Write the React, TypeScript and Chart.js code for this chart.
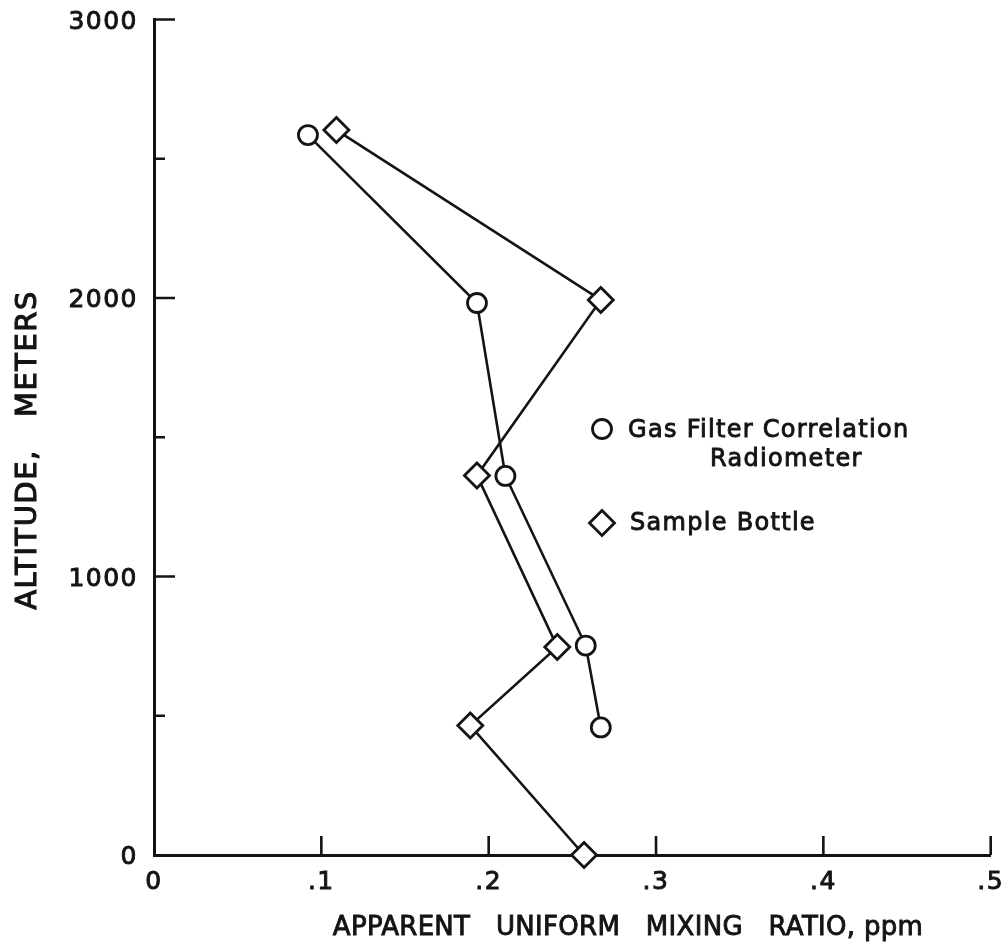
import React, { useEffect, useRef } from 'react';
import { Chart, registerables } from 'chart.js';

Chart.register(...registerables);

// ---- data ----
const gasRatio = [0.092, 0.193, 0.21, 0.258, 0.267];
const gasAltitude = [2585, 1982, 1361, 752, 458];
const bottleRatio = [0.109, 0.267, 0.193, 0.241, 0.189, 0.257];
const bottleAltitude = [2603, 1993, 1363, 747, 465, 0];
const xTickValues = [0, 0.1, 0.2, 0.3, 0.4, 0.5];
const xTickLabels = ['0', '.1', '.2', '.3', '.4', '.5'];
const yTickValues = [0, 1000, 2000, 3000];
const yTickLabels = ['0', '1000', '2000', '3000'];
const gasLegendLines = ['Gas Filter Correlation', 'Radiometer'];
const bottleLegend = 'Sample Bottle';
const xTitle = 'APPARENT   UNIFORM   MIXING   RATIO, ppm';
const yTitle = 'ALTITUDE,   METERS';

const INK = '#141414';
const FONT = '"DejaVu Sans", sans-serif';

function boldText(ctx: any, text: string, x: number, y: number, w = 0.9) {
  ctx.fillText(text, x, y);
  ctx.lineWidth = w;
  ctx.strokeText(text, x, y);
}

const decorPlugin = {
  id: 'decor',
  beforeDatasetsDraw(chart: any) {
    const ctx = chart.ctx;
    const { x, y } = chart.scales;
    const area = chart.chartArea;
    ctx.save();
    ctx.strokeStyle = INK;
    ctx.lineWidth = 2.6;
    ctx.lineCap = 'butt';
    ctx.beginPath();
    y.ticks.forEach((t: any) => {
      if (t.value === 0) return;
      const py = y.getPixelForValue(t.value);
      const len = t.value % 1000 === 0 ? 21 : 11;
      ctx.moveTo(area.left, py);
      ctx.lineTo(area.left + len, py);
    });
    x.ticks.forEach((t: any) => {
      if (t.value === 0) return;
      const px = x.getPixelForValue(t.value);
      ctx.moveTo(px, area.bottom);
      ctx.lineTo(px, area.bottom - 19);
    });
    ctx.stroke();

    // tick labels
    ctx.fillStyle = INK;
    ctx.strokeStyle = INK;
    ctx.font = `25px ${FONT}`;
    ctx.letterSpacing = '1.5px';
    ctx.textBaseline = 'alphabetic';
    ctx.textAlign = 'right';
    yTickValues.forEach((v, i) => {
      const py = y.getPixelForValue(v);
      boldText(ctx, yTickLabels[i], area.left - 16, py + 9);
    });
    ctx.textAlign = 'center';
    xTickValues.forEach((v, i) => {
      const px = x.getPixelForValue(v);
      boldText(ctx, xTickLabels[i], px, area.bottom + 34);
    });
    ctx.restore();
  },
  afterDraw(chart: any) {
    const ctx = chart.ctx;
    ctx.save();
    ctx.fillStyle = INK;
    ctx.strokeStyle = INK;

    // axis titles
    ctx.font = `26px ${FONT}`;
    ctx.letterSpacing = '0.3px';
    ctx.textAlign = 'center';
    ctx.textBaseline = 'alphabetic';
    boldText(ctx, xTitle, 628, 935);

    ctx.save();
    ctx.translate(35.5, 450);
    ctx.rotate(-Math.PI / 2);
    ctx.font = `29px ${FONT}`;
    ctx.letterSpacing = '1.5px';
    boldText(ctx, yTitle, 0, 0, 1.1);
    ctx.restore();

    // legend
    ctx.lineWidth = 2.8;
    ctx.fillStyle = '#ffffff';
    ctx.beginPath();
    ctx.arc(602, 429, 9.5, 0, Math.PI * 2);
    ctx.fill();
    ctx.stroke();
    const dx = 602, dy = 523, r = 12.5;
    ctx.beginPath();
    ctx.moveTo(dx - r, dy);
    ctx.lineTo(dx, dy - r);
    ctx.lineTo(dx + r, dy);
    ctx.lineTo(dx, dy + r);
    ctx.closePath();
    ctx.fill();
    ctx.stroke();

    ctx.fillStyle = INK;
    ctx.font = `24px ${FONT}`;
    ctx.letterSpacing = '1.3px';
    ctx.textAlign = 'left';
    boldText(ctx, gasLegendLines[0], 628, 437);
    boldText(ctx, gasLegendLines[1], 710, 466);
    boldText(ctx, bottleLegend, 630, 530);
    ctx.restore();
  },
};

function zeroPad(s: any) {
  s.paddingLeft = 0;
  s.paddingRight = 0;
  s.paddingTop = 0;
  s.paddingBottom = 0;
}

export default function App() {
  const ref = useRef<HTMLCanvasElement | null>(null);

  useEffect(() => {
    if (!ref.current) return;
    const chart = new Chart(ref.current, {
      type: 'line',
      data: {
        datasets: [
          {
            label: gasLegendLines.join(' '),
            data: gasRatio.map((v, i) => ({ x: v, y: gasAltitude[i] })),
            borderColor: INK,
            borderWidth: 2.6,
            pointStyle: 'circle',
            pointRadius: 9.5,
            pointBorderWidth: 2.8,
            pointBackgroundColor: '#ffffff',
            pointBorderColor: INK,
            tension: 0,
            clip: false as any,
          },
          {
            label: bottleLegend,
            data: bottleRatio.map((v, i) => ({ x: v, y: bottleAltitude[i] })),
            borderColor: INK,
            borderWidth: 2.6,
            pointStyle: 'rectRot',
            pointRadius: 12.5,
            pointBorderWidth: 2.8,
            pointBackgroundColor: '#ffffff',
            pointBorderColor: INK,
            tension: 0,
            clip: false as any,
          },
        ],
      },
      options: {
        animation: false,
        responsive: false,
        events: [],
        layout: { padding: { left: 0, right: 13, top: 19.5, bottom: 0 } },
        plugins: {
          legend: { display: false },
          tooltip: { enabled: false },
        },
        scales: {
          x: {
            type: 'linear',
            min: 0,
            max: 0.5,
            afterFit: (s: any) => {
              s.height = 88;
              zeroPad(s);
            },
            afterBuildTicks: (s: any) => {
              s.ticks = xTickValues.map((v) => ({ value: v }));
            },
            grid: { display: false, drawTicks: false },
            border: { display: true, color: INK, width: 3 },
            ticks: { display: false },
          },
          y: {
            type: 'linear',
            min: 0,
            max: 3000,
            afterFit: (s: any) => {
              s.width = 154;
              zeroPad(s);
            },
            afterBuildTicks: (s: any) => {
              const arr: any[] = [];
              for (let i = 0; i < yTickValues.length; i++) {
                arr.push({ value: yTickValues[i] });
                if (i < yTickValues.length - 1) arr.push({ value: (yTickValues[i] + yTickValues[i + 1]) / 2 });
              }
              s.ticks = arr;
            },
            grid: { display: false, drawTicks: false },
            border: { display: true, color: INK, width: 3 },
            ticks: { display: false },
          },
        },
      },
      plugins: [decorPlugin],
    });
    return () => chart.destroy();
  }, []);

  return (
    <canvas
      ref={ref}
      width={1006}
      height={943}
      style={{ position: 'absolute', left: 0, top: 0, width: '1006px', height: '943px' }}
    />
  );
}
